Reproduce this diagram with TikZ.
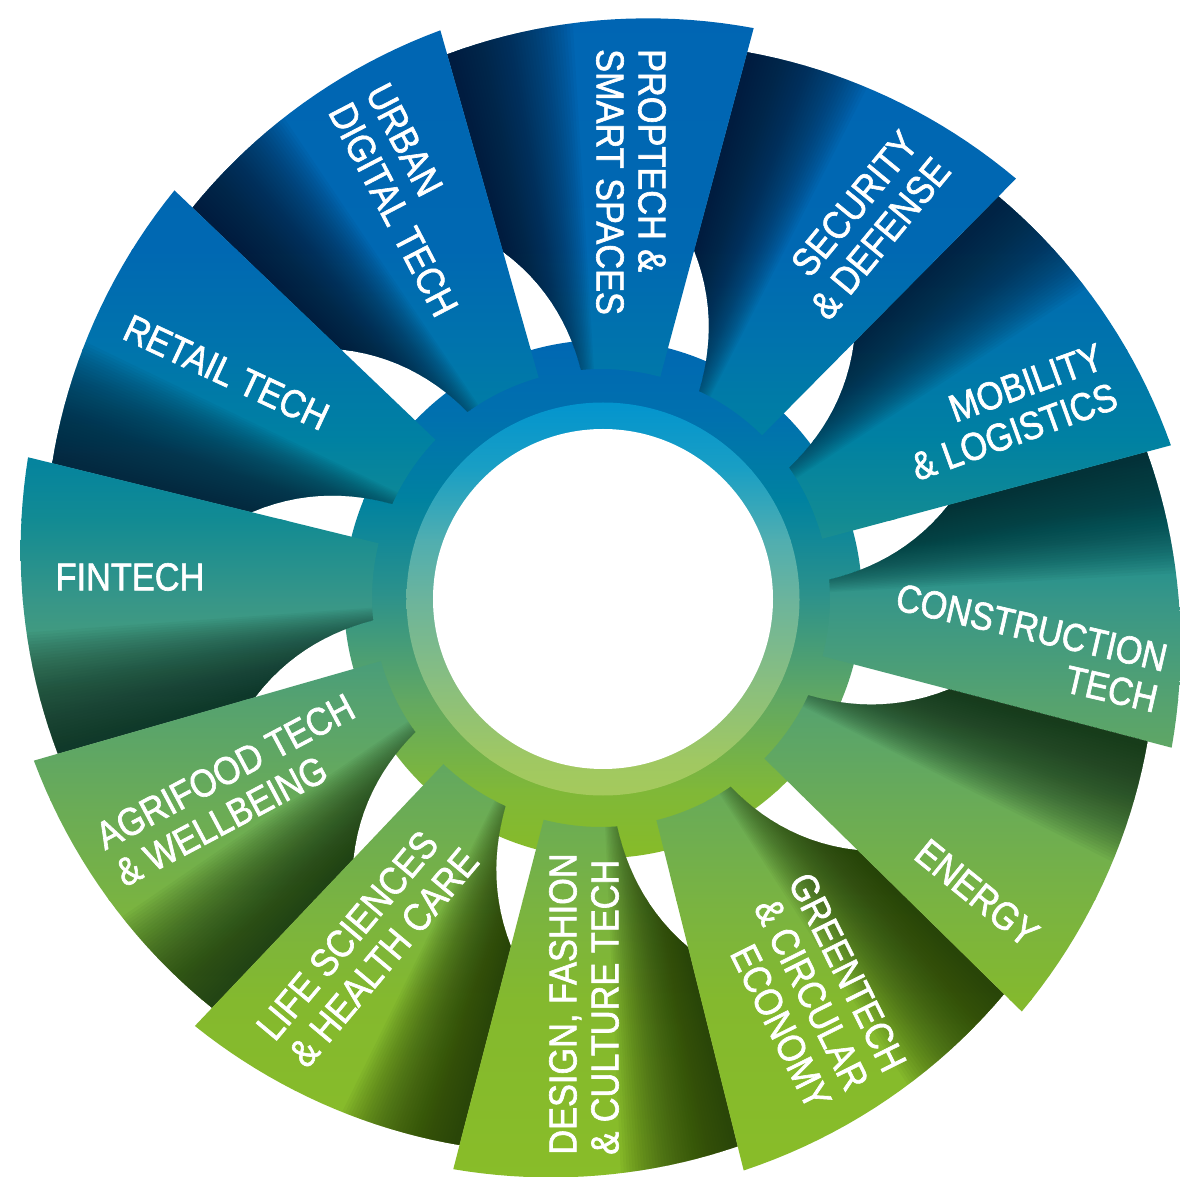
\documentclass[tikz,border=0pt]{standalone}
\usepackage{fontspec}
\newfontfamily\lblfont{Liberation Sans}[FakeStretch=0.88,FakeBold=1.6]
% global blade gradient (by image row)
\definecolor{g0}{HTML}{0065B3}
\definecolor{g1}{HTML}{0068B2}
\definecolor{g2}{HTML}{0074AC}
\definecolor{g3}{HTML}{0081A2}
\definecolor{g4}{HTML}{128B93}
\definecolor{g5}{HTML}{379688}
\definecolor{g6}{HTML}{55A270}
\definecolor{g7}{HTML}{69AB58}
\definecolor{g8}{HTML}{79B342}
\definecolor{g9}{HTML}{84B92E}
\definecolor{g10}{HTML}{89BD28}
% dark ring
\definecolor{d0}{HTML}{0066B3}
\definecolor{d1}{HTML}{0071AE}
\definecolor{d2}{HTML}{0082A0}
\definecolor{d3}{HTML}{2E928A}
\definecolor{d4}{HTML}{62A862}
\definecolor{d5}{HTML}{80B838}
\definecolor{d6}{HTML}{88BC25}
% light ring
\definecolor{l0}{HTML}{0093CF}
\definecolor{l1}{HTML}{1A9FC4}
\definecolor{l2}{HTML}{50AEB0}
\definecolor{l3}{HTML}{6CB49C}
\definecolor{l4}{HTML}{88BE80}
\definecolor{l5}{HTML}{A0C862}
\definecolor{l6}{HTML}{A6CA5A}
% shadow colours
\definecolor{shnavy}{HTML}{031B35}
\definecolor{shblue}{HTML}{03233A}
\definecolor{shteal}{HTML}{032E30}
\definecolor{shfin}{HTML}{0E302A}
\definecolor{shagri}{HTML}{1C3A14}
\definecolor{shgreen}{HTML}{243B08}
\definecolor{shenergy}{HTML}{173318}

\tikzset{lbl/.style={text=white, font=\lblfont\fontsize{39}{42}\selectfont, inner sep=0pt}}

\newcommand{\gbands}{%
  \foreach \ya/\yb/\ca/\cb in {-10/250/g0/g1,250/350/g1/g2,350/440/g2/g3,440/520/g3/g4,520/600/g4/g5,600/700/g5/g6,700/800/g6/g7,800/900/g7/g8,900/1000/g8/g9,1000/1190/g9/g10}{%
    \shade[top color=\ca, bottom color=\cb] (-610,{598-\ya+0.6}) rectangle (590,{598-\yb-0.6});
  }%
}
\newcommand{\dbands}{%
  \foreach \ya/\yb/\ca/\cb in {330/420/d0/d1,420/500/d1/d2,500/598/d2/d3,598/700/d3/d4,700/790/d4/d5,790/870/d5/d6}{%
    \shade[top color=\ca, bottom color=\cb] (-300,{598-\ya+0.6}) rectangle (300,{598-\yb-0.6});
  }%
}
\newcommand{\lbands}{%
  \foreach \ya/\yb/\ca/\cb in {395/470/l0/l1,470/540/l1/l2,540/600/l2/l3,600/680/l3/l4,680/760/l4/l5,760/805/l5/l6}{%
    \shade[top color=\ca, bottom color=\cb] (-300,{598-\ya+0.6}) rectangle (300,{598-\yb-0.6});
  }%
}

\newcommand{\drawblade}[3]{%
  \pgfmathsetmacro\ba{#1}%
  \pgfmathsetmacro\bb{#2}%
  \pgfmathsetmacro\bw{\bb-\ba}%
  \pgfmathsetmacro\bc{\ba+0.65*\bw}%
  \pgfmathsetmacro\be{\bb+3}%
  \begin{scope}
    \clip (\ba:229) -- (\ba:590)
      -- plot[domain=0:1,samples=21,variable=\t] ({\ba+\bw*\t}:{590-25*\t})
      -- (\bb:360)
      -- plot[domain=1:0,samples=14,variable=\t] ({\ba+\bw*(0.65+0.175*(\t*\t+\t))}:{229+131*\t})
      arc[start angle=\bc, end angle=\ba, radius=229] -- cycle;
    \gbands
    \foreach \k in {0,...,39}{%
      \pgfmathsetmacro\si{\ba+\bw*(0.54+0.44*\k/39)}%
      \pgfmathsetmacro\so{\ba+\bw*(0.58+0.40*\k/39)}%
      \fill[#3, fill opacity=0.0465] (\si:212) -- (\so:625) -- (\be:625) -- (\be:212) -- cycle;
    }
  \end{scope}%
}

\begin{document}
\begin{tikzpicture}[x=1pt,y=1pt]
\useasboundingbox (-601,-579) rectangle (579,598);
\fill[white] (-601,-579) rectangle (579,598);

% rings
\begin{scope}
  \clip (2,-1) circle[radius=259];
  \dbands
\end{scope}
\begin{scope}
  \clip (2,-1) circle[radius=196.5];
  \lbands
\end{scope}
\fill[white] (2,-1) circle[radius=170];
\coordinate (hub) at (2,-1);

% blades: leading angle, trailing angle, shadow colour
\drawblade{-14.7}{15}{shteal}     % construction
\drawblade{15}{45.3}{shblue}      % mobility
\drawblade{45.3}{75}{shnavy}      % security
\drawblade{75}{105.8}{shnavy}     % proptech
\drawblade{105.8}{136.3}{shnavy}  % urban
\drawblade{136.3}{166.2}{shblue}  % retail
\drawblade{166.2}{196}{shfin}     % fintech
\drawblade{196}{226.5}{shagri}    % agrifood
\drawblade{226.5}{255.5}{shgreen} % life sciences
\drawblade{255.5}{284}{shgreen}   % design
\drawblade{284}{315.5}{shgreen}   % greentech
\drawblade{315.5}{345.3}{shenergy}% energy

% labels
\node[lbl, align=left, rotate=-90] (proptech) at (30,416) {PROPTECH \&\\SMART SPACES};
\node[lbl, align=right, rotate=50.5] (security) at (263,373) {SECURITY\\\& DEFENSE};
\node[lbl, align=right, rotate=20] (mobility) at (406,186) {MOBILITY\\\& LOGISTICS};
\node[lbl, align=right, rotate=-13] (construction) at (426,-50) {CONSTRUCTION\\TECH};
\node[lbl, rotate=-39] (energy) at (376,-295) {ENERGY};
\node[lbl, align=right, rotate=-63.5] (greentech) at (209,-393) {GREENTECH\\\& CIRCULAR\\ECONOMY};
\node[lbl, align=left, rotate=90] (design) at (-17,-406) {DESIGN, FASHION\\\& CULTURE TECH};
\node[lbl, align=left, rotate=50] (life) at (-233.5,-346) {LIFE SCIENCES\\\& HEALTH CARE};
\node[lbl, align=left, rotate=28] (agrifood) at (-366,-192) {AGRIFOOD TECH\\\& WELLBEING};
\node[lbl] (fintech) at (-471,21) {FINTECH};
\node[lbl, rotate=-25] (retail) at (-374.5,225.5) {RETAIL TECH};
\node[lbl, align=left, rotate=-62.5] (urban) at (-189,398) {URBAN\\DIGITAL TECH};
\end{tikzpicture}
\end{document}
